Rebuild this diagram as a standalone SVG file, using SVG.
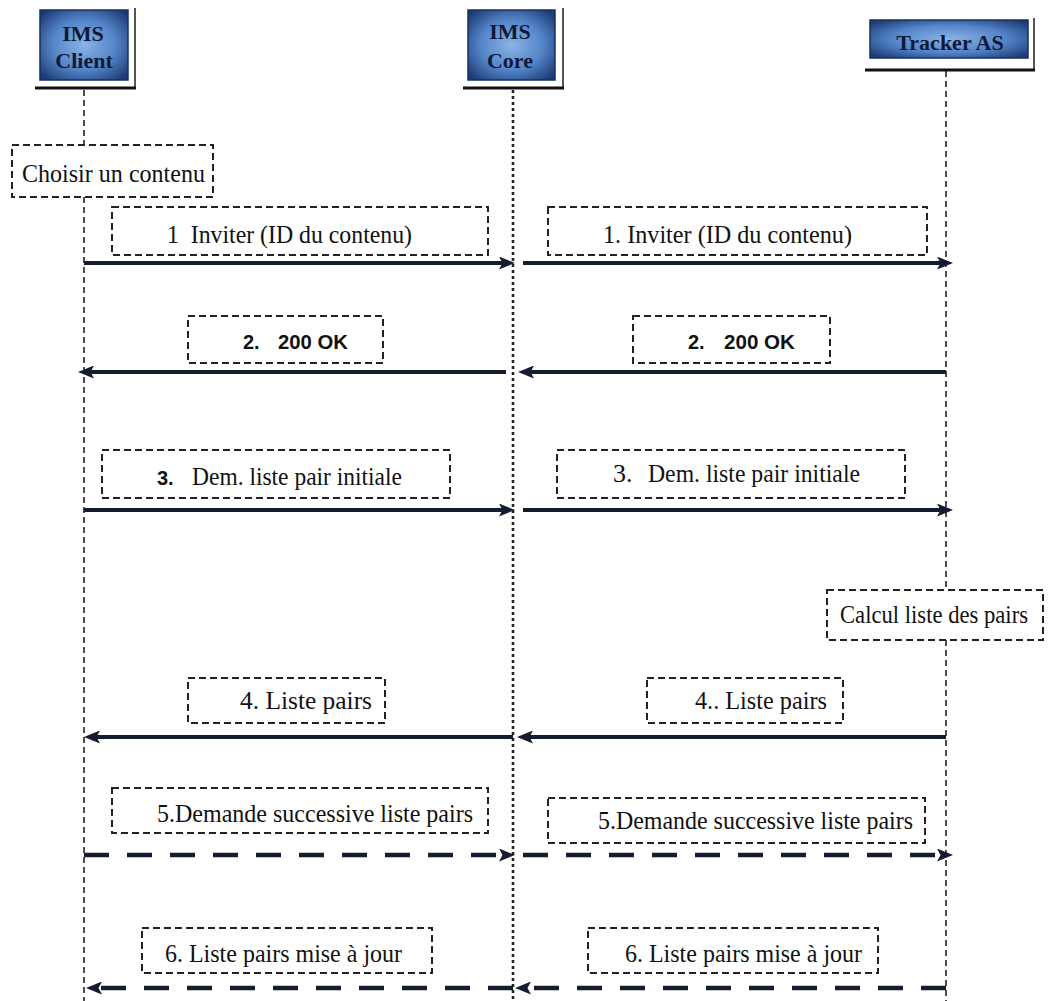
<svg xmlns="http://www.w3.org/2000/svg" width="1049" height="1001" viewBox="0 0 1049 1001">
  <style>
    .hdr-txt { font-family: "Liberation Serif", "DejaVu Serif", "Times New Roman", serif; font-weight: bold; font-size: 22px; fill: #0d1a38; text-anchor: middle; }
    .lbl { font-family: "Liberation Serif", "DejaVu Serif", "Times New Roman", serif; font-size: 26px; fill: #111; }
    .lbl-sans { font-family: "Liberation Sans", Arial, sans-serif; font-weight: bold; font-size: 20px; fill: #111; }
    .note { fill: #fff; stroke: #222; stroke-width: 2; stroke-dasharray: 7 4; }
    .life { stroke: #222; stroke-width: 1.6; stroke-dasharray: 6 4; fill: none; }
    .life-core { stroke: #222; stroke-width: 2.6; stroke-dasharray: 3 3; fill: none; }
    .msg { stroke: #151c30; stroke-width: 4; fill: none; }
    .msg-dash { stroke: #151c30; stroke-width: 4.5; fill: none; stroke-dasharray: 25 18; }
    .frame-r { stroke: #555; stroke-width: 2; }
    .frame-b { stroke: #111; stroke-width: 3; }
  </style>
  <defs>
    <radialGradient id="blueFill" cx="50%" cy="50%" r="65%">
      <stop offset="0%" stop-color="#8ab3e6"/>
      <stop offset="55%" stop-color="#5485c8"/>
      <stop offset="100%" stop-color="#1c3a74"/>
    </radialGradient>
    <marker id="head" viewBox="0 0 16 13" refX="9" refY="6.5" markerWidth="16" markerHeight="13" markerUnits="userSpaceOnUse" orient="auto">
      <path d="M0,0 L16,6.5 L0,13 L3.5,6.5 z" fill="#151c30"/>
    </marker>
  </defs>

  <rect width="1049" height="1001" fill="#fff"/>

  <!-- lifelines -->
  <g id="lifelines">
    <line class="life" x1="84" y1="90" x2="84" y2="145"/>
    <line class="life" x1="84" y1="197" x2="84" y2="1001"/>
    <line class="life-core" x1="513" y1="90" x2="513" y2="1001"/>
    <line class="life" x1="946" y1="71" x2="946" y2="590"/>
    <line class="life" x1="946" y1="640" x2="946" y2="1001"/>
  </g>

  <!-- participants -->
  <g id="ims-client">
    <rect x="40" y="10" width="88" height="70" fill="url(#blueFill)" stroke="#16305f" stroke-width="1.5"/>
    <line class="frame-r" x1="135" y1="8" x2="135" y2="89"/>
    <line class="frame-b" x1="35" y1="88" x2="136" y2="88"/>
    <text class="hdr-txt" x="83" y="41">IMS</text>
    <text class="hdr-txt" x="84" y="68">Client</text>
  </g>
  <g id="ims-core">
    <rect x="468" y="10" width="87" height="70" fill="url(#blueFill)" stroke="#16305f" stroke-width="1.5"/>
    <line class="frame-r" x1="563" y1="8" x2="563" y2="89"/>
    <line class="frame-b" x1="463" y1="88" x2="564" y2="88"/>
    <text class="hdr-txt" x="510" y="39">IMS</text>
    <text class="hdr-txt" x="510" y="68">Core</text>
  </g>
  <g id="tracker-as">
    <rect x="870" y="20" width="158" height="38" fill="url(#blueFill)" stroke="#16305f" stroke-width="1.5"/>
    <line class="frame-r" x1="1034" y1="18" x2="1034" y2="71"/>
    <line class="frame-b" x1="865" y1="70" x2="1035" y2="70"/>
    <text class="hdr-txt" x="950" y="50">Tracker AS</text>
  </g>

  <!-- local actions -->
  <g id="choisir">
    <rect class="note" x="12" y="145" width="201" height="52"/>
    <text class="lbl" x="22" y="182" font-size="28" textLength="183" lengthAdjust="spacingAndGlyphs">Choisir un contenu</text>
  </g>
  <g id="calcul">
    <rect class="note" x="827" y="590" width="216" height="50"/>
    <text class="lbl" x="840" y="623" font-size="23" textLength="188" lengthAdjust="spacingAndGlyphs">Calcul liste des pairs</text>
  </g>

  <!-- message labels -->
  <g id="labels">
    <g id="lbl-1a">
      <rect class="note" x="112" y="207" width="376" height="48"/>
      <text class="lbl" x="167" y="243" textLength="245" lengthAdjust="spacingAndGlyphs" xml:space="preserve">1  Inviter (ID du contenu)</text>
    </g>
    <g id="lbl-1b">
      <rect class="note" x="548" y="207" width="379" height="48"/>
      <text class="lbl" x="603" y="243" textLength="249" lengthAdjust="spacingAndGlyphs">1. Inviter (ID du contenu)</text>
    </g>
    <g id="lbl-2a">
      <rect class="note" x="188" y="316" width="195" height="47"/>
      <text class="lbl-sans" x="243" y="349">2.</text>
      <text class="lbl-sans" x="278" y="349" textLength="70" lengthAdjust="spacingAndGlyphs">200 OK</text>
    </g>
    <g id="lbl-2b">
      <rect class="note" x="633" y="316" width="197" height="47"/>
      <text class="lbl-sans" x="688" y="349">2.</text>
      <text class="lbl-sans" x="724" y="349" textLength="71" lengthAdjust="spacingAndGlyphs">200 OK</text>
    </g>
    <g id="lbl-3a">
      <rect class="note" x="102" y="450" width="348" height="48"/>
      <text class="lbl-sans" x="157" y="485">3.</text>
      <text class="lbl" x="192" y="485" textLength="210" lengthAdjust="spacingAndGlyphs">Dem. liste pair initiale</text>
    </g>
    <g id="lbl-3b">
      <rect class="note" x="557" y="450" width="348" height="48"/>
      <text class="lbl" x="613" y="482">3.</text>
      <text class="lbl" x="648" y="482" textLength="212" lengthAdjust="spacingAndGlyphs">Dem. liste pair initiale</text>
    </g>
    <g id="lbl-4a">
      <rect class="note" x="188" y="678" width="197" height="45"/>
      <text class="lbl" x="240" y="709" textLength="132" lengthAdjust="spacingAndGlyphs">4. Liste pairs</text>
    </g>
    <g id="lbl-4b">
      <rect class="note" x="647" y="678" width="196" height="45"/>
      <text class="lbl" x="695" y="709" textLength="132" lengthAdjust="spacingAndGlyphs">4.. Liste pairs</text>
    </g>
    <g id="lbl-5a">
      <rect class="note" x="112" y="788" width="376" height="45"/>
      <text class="lbl" x="157" y="822" textLength="316" lengthAdjust="spacingAndGlyphs">5.Demande successive liste pairs</text>
    </g>
    <g id="lbl-5b">
      <rect class="note" x="548" y="798" width="377" height="45"/>
      <text class="lbl" x="598" y="829" textLength="315" lengthAdjust="spacingAndGlyphs">5.Demande successive liste pairs</text>
    </g>
    <g id="lbl-6a">
      <rect class="note" x="142" y="928" width="290" height="45"/>
      <text class="lbl" x="165" y="962" textLength="237" lengthAdjust="spacingAndGlyphs">6. Liste pairs mise à jour</text>
    </g>
    <g id="lbl-6b">
      <rect class="note" x="588" y="928" width="290" height="45"/>
      <text class="lbl" x="625" y="962" textLength="237" lengthAdjust="spacingAndGlyphs">6. Liste pairs mise à jour</text>
    </g>
  </g>

  <!-- messages -->
  <g id="connectors">
    <line class="msg" x1="84" y1="263" x2="508" y2="263" marker-end="url(#head)"/>
    <line class="msg" x1="523" y1="263" x2="946" y2="263" marker-end="url(#head)"/>
    <line class="msg" x1="506" y1="372" x2="85" y2="372" marker-end="url(#head)"/>
    <line class="msg" x1="946" y1="372" x2="525" y2="372" marker-end="url(#head)"/>
    <line class="msg" x1="84" y1="510" x2="508" y2="510" marker-end="url(#head)"/>
    <line class="msg" x1="523" y1="510" x2="946" y2="510" marker-end="url(#head)"/>
    <line class="msg" x1="513" y1="737" x2="91" y2="737" marker-end="url(#head)"/>
    <line class="msg" x1="946" y1="737" x2="524" y2="737" marker-end="url(#head)"/>
    <line class="msg-dash" x1="84" y1="855" x2="508" y2="855" marker-end="url(#head)"/>
    <line class="msg-dash" x1="523" y1="855" x2="946" y2="855" marker-end="url(#head)"/>
    <line class="msg-dash" x1="513" y1="988" x2="93" y2="988" marker-end="url(#head)"/>
    <line class="msg-dash" x1="946" y1="988" x2="522" y2="988" marker-end="url(#head)"/>
  </g>
</svg>
